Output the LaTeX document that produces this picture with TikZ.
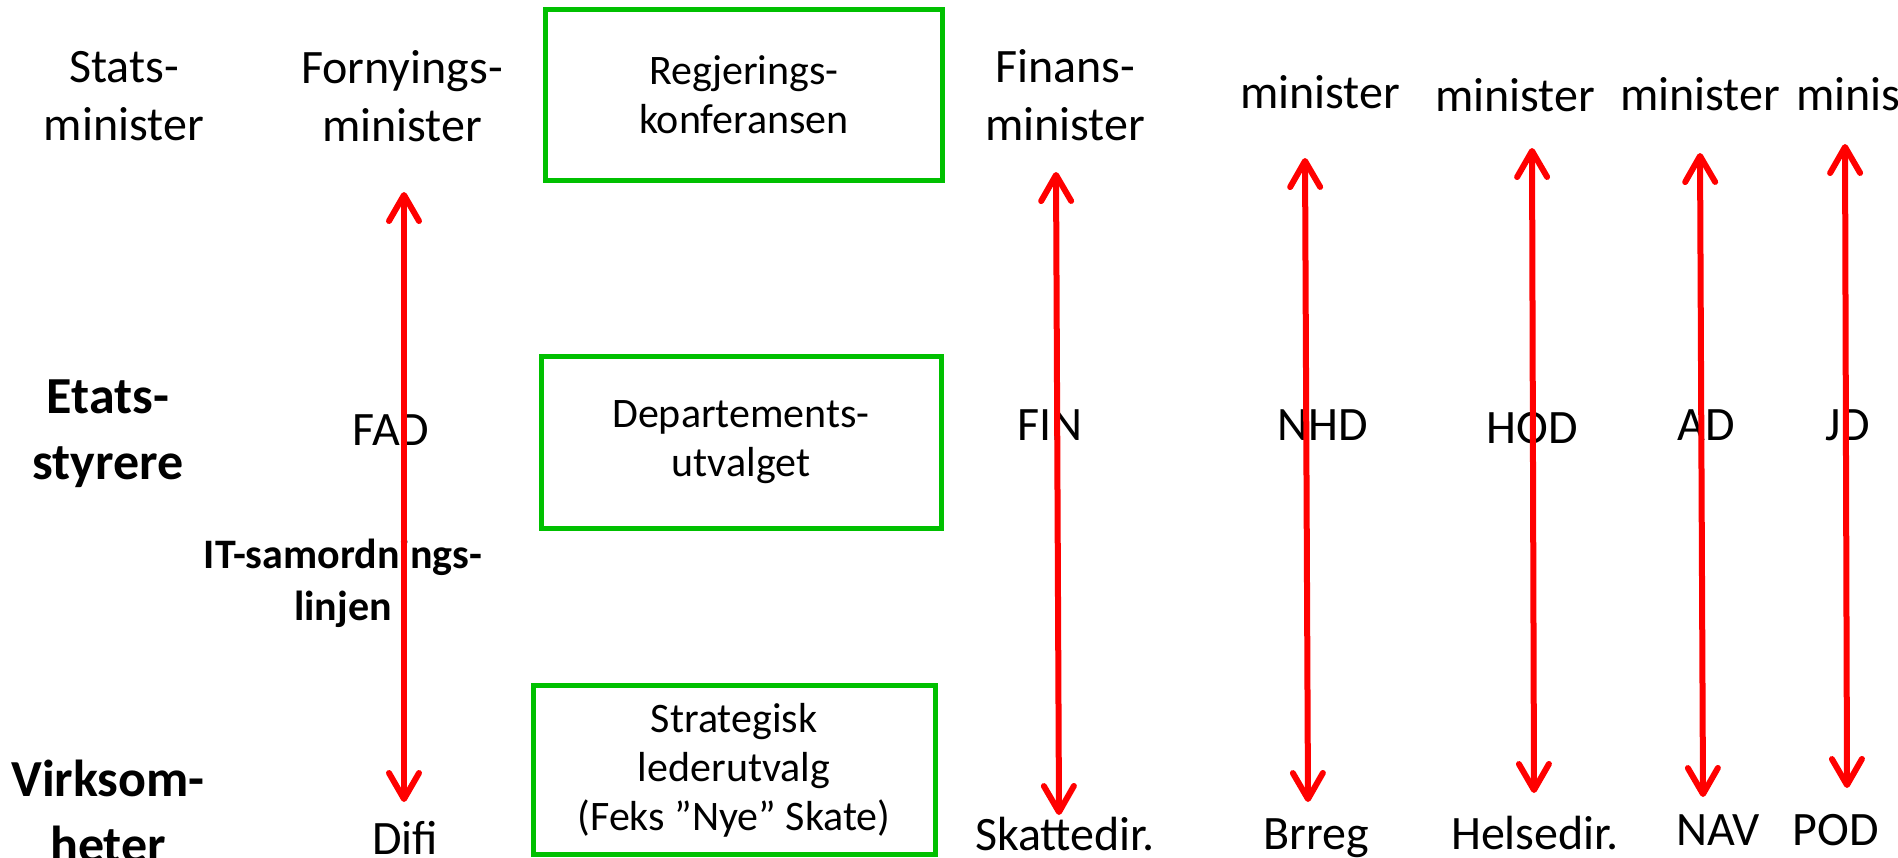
\documentclass[tikz,border=0pt]{standalone}
\usepackage{fontspec}
\setmainfont{Carlito}
\usetikzlibrary{arrows.meta}
\definecolor{boxgreen}{RGB}{0,192,0}
\definecolor{linkred}{RGB}{255,0,0}
\tikzset{
  lbl/.style={font=\fontsize{24}{29}\selectfont, align=center, inner sep=0pt},
  hdr/.style={font=\bfseries\fontsize{26}{33}\selectfont, align=center, inner sep=0pt},
  itl/.style={font=\bfseries\fontsize{21}{26}\selectfont, align=center, inner sep=0pt},
  gbox/.style={draw=boxgreen, line width=2.5pt, align=center, inner sep=0pt,
               font=\fontsize{21}{24.5}\selectfont},
  link/.style={draw=linkred, line width=3pt,
               {Straight Barb[length=13pt,width=15pt,round]}-{Straight Barb[length=13pt,width=15pt,round]}}
}
\begin{document}
\begin{tikzpicture}[x=0.5pt,y=-0.5pt]
\useasboundingbox (0,0) rectangle (1898,857);
\clip (0,0) rectangle (1898,857);
% top row
\node[lbl] (stats) at (124,96) {Stats-\\minister};
\node[lbl] (forny) at (402,96) {Fornyings-\\minister};
\node[gbox, minimum width=198.5pt, minimum height=85.5pt] (regj) at (744,95) {Regjerings-\\konferansen};
\node[lbl] (finans) at (1065,95) {Finans-\\minister};
\node[lbl, anchor=base] (min1) at (1320,108) {minister};
\node[lbl, anchor=base] (min2) at (1515,111) {minister};
\node[lbl, anchor=base] (min3) at (1700,110) {minister};
\node[lbl, anchor=base] (min4) at (1876,110) {minister};
% middle row
\node[hdr] (etats) at (108,434) {Etats-\\styrere};
\node[lbl, anchor=base] (fad) at (391,445) {FAD};
\node[gbox, minimum width=200pt, minimum height=86pt] (dep) at (741,442.5) {Departements-\\utvalget};
\node[lbl, anchor=base] (fin) at (1050,440) {FIN};
\node[lbl, anchor=base] (nhd) at (1323,440) {NHD};
\node[lbl, anchor=base] (hod) at (1532,443) {HOD};
\node[lbl, anchor=base] (ad) at (1706,440) {AD};
\node[lbl, anchor=base] (jd) at (1848,440) {JD};
\node[itl] (itsam) at (343,583) {IT-samordnings-\\linjen};
% bottom row
\node[hdr] (virk) at (108,811) {Virksom-\\heter};
\node[lbl, anchor=base] (difi) at (405,854) {Difi};
\node[gbox, minimum width=201pt, minimum height=84.5pt] (strat) at (734,770) {Strategisk\\lederutvalg\\(Feks ”Nye” Skate)};
\node[lbl, anchor=base] (skatt) at (1065,850) {Skattedir.};
\node[lbl, anchor=base] (brreg) at (1316,849) {Brreg};
\node[lbl, anchor=base] (helse) at (1535,849) {Helsedir.};
\node[lbl, anchor=base] (nav) at (1718,845) {NAV};
\node[lbl, anchor=base] (pod) at (1836,845) {POD};
% arrow ends
\coordinate (fadT) at (404,192);  \coordinate (fadB) at (404,802);
\coordinate (finT) at (1056,172); \coordinate (finB) at (1059,815);
\coordinate (nhdT) at (1305,158); \coordinate (nhdB) at (1308,802);
\coordinate (hodT) at (1532,148); \coordinate (hodB) at (1534,793);
\coordinate (adT) at (1700,153);  \coordinate (adB) at (1703,797);
\coordinate (jdT) at (1845,144);  \coordinate (jdB) at (1847,788);
\draw[link] (fadT) -- (fadB);
\draw[link] (finT) -- (finB);
\draw[link] (nhdT) -- (nhdB);
\draw[link] (hodT) -- (hodB);
\draw[link] (adT) -- (adB);
\draw[link] (jdT) -- (jdB);
\end{tikzpicture}
\end{document}
